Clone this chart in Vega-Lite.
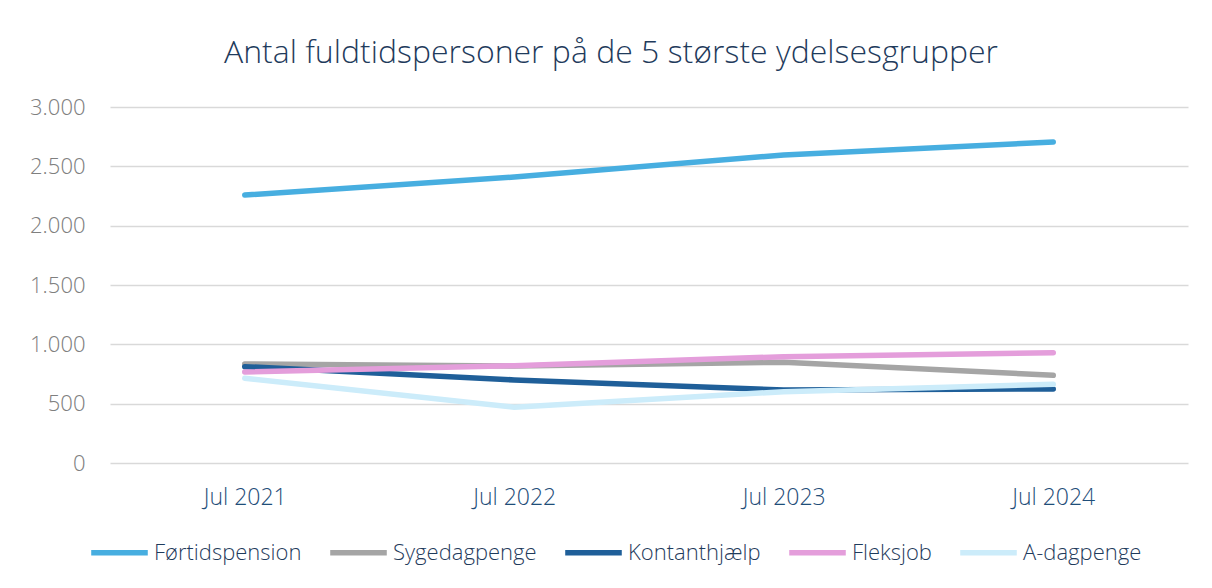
{
  "$schema": "https://vega.github.io/schema/vega-lite/v6.json",
  "width": 1078,
  "height": 356,
  "autosize": {"type": "none"},
  "padding": {"left": 110, "right": 24, "top": 107, "bottom": 125},
  "background": "white",
  "title": {
    "text": "Antal fuldtidspersoner på de 5 største ydelsesgrupper",
    "font": "Open Sans Light, Open Sans",
    "fontWeight": 300,
    "fontSize": 32,
    "color": "#1F3B5C",
    "offset": 26,
    "dx": -38
  },
  "data": {
    "values": [
      {"periode": "Jul 2021", "gruppe": "Førtidspension", "antal": 2258},
      {"periode": "Jul 2022", "gruppe": "Førtidspension", "antal": 2410},
      {"periode": "Jul 2023", "gruppe": "Førtidspension", "antal": 2596},
      {"periode": "Jul 2024", "gruppe": "Førtidspension", "antal": 2705},
      {"periode": "Jul 2021", "gruppe": "Sygedagpenge", "antal": 834},
      {"periode": "Jul 2022", "gruppe": "Sygedagpenge", "antal": 817},
      {"periode": "Jul 2023", "gruppe": "Sygedagpenge", "antal": 849},
      {"periode": "Jul 2024", "gruppe": "Sygedagpenge", "antal": 739},
      {"periode": "Jul 2021", "gruppe": "Kontanthjælp", "antal": 812},
      {"periode": "Jul 2022", "gruppe": "Kontanthjælp", "antal": 700},
      {"periode": "Jul 2023", "gruppe": "Kontanthjælp", "antal": 615},
      {"periode": "Jul 2024", "gruppe": "Kontanthjælp", "antal": 624},
      {"periode": "Jul 2021", "gruppe": "Fleksjob", "antal": 767},
      {"periode": "Jul 2022", "gruppe": "Fleksjob", "antal": 820},
      {"periode": "Jul 2023", "gruppe": "Fleksjob", "antal": 896},
      {"periode": "Jul 2024", "gruppe": "Fleksjob", "antal": 930},
      {"periode": "Jul 2021", "gruppe": "A-dagpenge", "antal": 714},
      {"periode": "Jul 2022", "gruppe": "A-dagpenge", "antal": 470},
      {"periode": "Jul 2023", "gruppe": "A-dagpenge", "antal": 601},
      {"periode": "Jul 2024", "gruppe": "A-dagpenge", "antal": 663}
    ]
  },
  "mark": {"type": "line", "strokeWidth": 5.5, "strokeCap": "round", "strokeJoin": "round"},
  "encoding": {
    "x": {
      "field": "periode",
      "type": "nominal",
      "scale": {"type": "point", "padding": 0.5},
      "axis": {
        "title": null,
        "labelAngle": 0,
        "domain": false,
        "ticks": false,
        "labelPadding": 23,
        "labelFont": "Open Sans Light, Open Sans",
        "labelFontWeight": 300,
        "labelFontSize": 23,
        "labelColor": "#1F4E79"
      }
    },
    "y": {
      "field": "antal",
      "type": "quantitative",
      "scale": {"domain": [0, 3000]},
      "axis": {
        "title": null,
        "values": [0, 500, 1000, 1500, 2000, 2500, 3000],
        "labelExpr": "replace(format(datum.value, ','), ',', '.')",
        "domain": false,
        "ticks": false,
        "labelPadding": 25,
        "labelFont": "Open Sans Light, Open Sans",
        "labelFontWeight": 300,
        "labelFontSize": 22,
        "labelColor": "#7F7F7F",
        "gridColor": "#D9D9D9",
        "gridWidth": 1.5
      }
    },
    "color": {
      "field": "gruppe",
      "type": "nominal",
      "scale": {
        "domain": ["Førtidspension", "Sygedagpenge", "Kontanthjælp", "Fleksjob", "A-dagpenge"],
        "range": ["#47AEE0", "#A5A5A5", "#1F5F99", "#E49EDB", "#CCECFA"]
      },
      "legend": {
        "title": null,
        "orient": "none",
        "legendX": -22,
        "legendY": 414,
        "direction": "horizontal",
        "symbolType": "stroke",
        "symbolStrokeWidth": 5.5,
        "symbolSize": 3200,
        "labelFont": "Open Sans Light, Open Sans",
        "labelFontWeight": 300,
        "labelFontSize": 22,
        "labelColor": "#1F3B5C",
        "labelOffset": 3,
        "columnPadding": 17
      }
    }
  },
  "config": {
    "view": {"stroke": null}
  }
}
